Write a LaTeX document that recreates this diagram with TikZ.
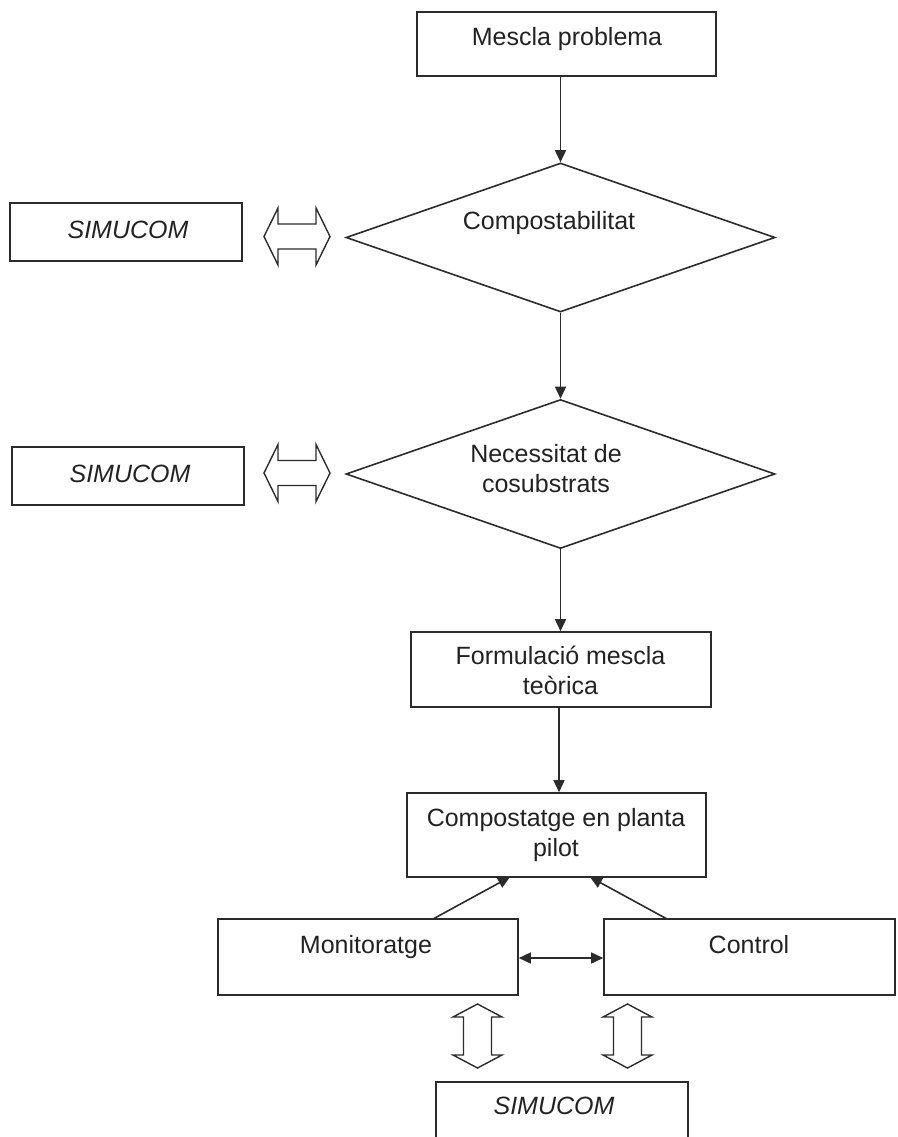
\documentclass[tikz,border=0pt]{standalone}
\usepackage{fontspec}
\setmainfont{Liberation Sans}
\usetikzlibrary{shapes.geometric,arrows.meta}
\definecolor{lc}{HTML}{2B2B2B}
\definecolor{tc}{HTML}{222222}
\newcommand\dblH[2]{\draw[dbl] (#1-33,#2) -- (#1-19,#2-28.5) -- (#1-19,#2-12.5) -- (#1+19,#2-12.5) -- (#1+19,#2-28.5) -- (#1+33,#2) -- (#1+19,#2+28.5) -- (#1+19,#2+12.5) -- (#1-19,#2+12.5) -- (#1-19,#2+28.5) -- cycle;}
\newcommand\dblV[2]{\draw[dbl] (#1,#2-32) -- (#1+24.5,#2-19) -- (#1+14,#2-19) -- (#1+14,#2+19) -- (#1+24.5,#2+19) -- (#1,#2+32) -- (#1-24.5,#2+19) -- (#1-14,#2+19) -- (#1-14,#2-19) -- (#1-24.5,#2-19) -- cycle;}
\begin{document}
\begin{tikzpicture}[x=1pt,y=-1pt,
  box/.style={draw=lc, line width=1.6pt, inner sep=0pt, rectangle},
  dia/.style={draw=lc, line width=1.6pt, inner sep=0pt, shape=diamond, minimum width=429pt, minimum height=149pt},
  txt/.style={font=\fontsize{25}{29.5}\selectfont, text=tc, inner sep=0pt, align=center, anchor=base},
  itxt/.style={txt, font=\fontsize{25}{29.5}\selectfont\itshape},
  arr/.style={draw=lc, line width=1.6pt, -{Triangle[length=12pt,width=11pt]}},
  barr/.style={draw=lc, line width=1.6pt, {Triangle[length=12pt,width=11pt]}-{Triangle[length=12pt,width=11pt]}},
  dbl/.style={draw=lc, line width=1.4pt, line join=miter}]
\path[use as bounding box] (0,0) rectangle (897,1137);

% top box
\node[box, minimum width=299pt, minimum height=64pt] (mp) at (566.5,44) {};
\node[txt] (mpt) at (567,46) {Mescla problema};

% diamond 1
\node[dia] (d1) at (560.5,237.5) {};
\node[txt] (d1t) at (549,229) {Compostabilitat};

% diamond 2
\node[dia] (d2) at (560.5,474) {};
\node[txt] (d2t) at (546,492) {Necessitat de\\cosubstrats};

% SIMUCOM boxes
\node[box, minimum width=232pt, minimum height=58pt] (s1) at (126,232) {};
\node[itxt] (s1t) at (128,238) {SIMUCOM};
\node[box, minimum width=232pt, minimum height=58pt] (s2) at (128,476) {};
\node[itxt] (s2t) at (130,482) {SIMUCOM};

\dblH{297}{236.5}
\dblH{297}{473}

% formulacio
\node[box, minimum width=300pt, minimum height=75pt] (f) at (561,669.5) {};
\node[txt] (ft) at (560.5,694) {Formulació mescla\\teòrica};

% compostatge
\node[box, minimum width=299pt, minimum height=84pt] (c) at (556.5,835) {};
\node[txt] (ct) at (556,856) {Compostatge en planta\\pilot};

% monitoratge, control
\node[box, minimum width=300pt, minimum height=76pt] (m) at (368,957) {};
\node[txt] (mt) at (366,953) {Monitoratge};
\node[box, minimum width=291pt, minimum height=76pt] (k) at (749.5,957) {};
\node[txt] (kt) at (749,953) {Control};

% bottom simucom
\node[box, minimum width=252pt, minimum height=58pt] (b) at (562,1111) {};
\node[itxt] (bt) at (554,1114) {SIMUCOM};

\dblV{477.5}{1036}
\dblV{627.5}{1036}

% connectors
\draw[arr] (d1.north |- mp.south) -- (d1.north);
\draw[arr] (d1.south) -- (d2.north);
\draw[arr] (d2.south) -- (f.north -| d2.south);
\draw[arr] (f.south -| 559,0) -- (c.north -| 559,0);
\coordinate (ma) at (433,919);
\coordinate (mb) at (510,877);
\coordinate (ka) at (667,919);
\coordinate (kb) at (590,877);
\draw[arr] (ma) -- (mb);
\draw[arr] (ka) -- (kb);
\draw[barr] (m.east |- 0,958) -- (k.west |- 0,958);
\end{tikzpicture}
\end{document}
